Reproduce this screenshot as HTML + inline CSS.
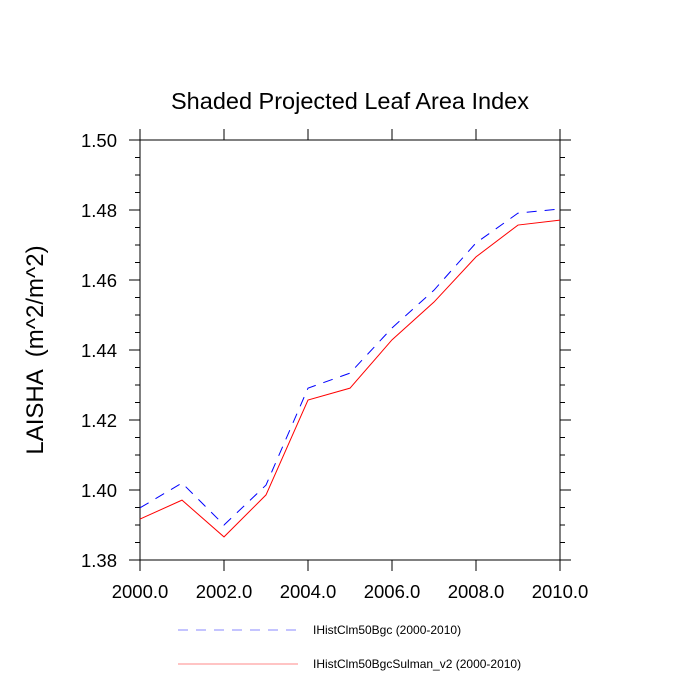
<!DOCTYPE html>
<html><head><meta charset="utf-8"><style>
body{margin:0;background:#fff;}
svg{display:block;font-family:"Liberation Sans",sans-serif;}
</style></head><body>
<svg id="chart" width="700" height="700" viewBox="0 0 700 700">
<text x="350" y="109" text-anchor="middle" font-size="23.5">Shaded Projected Leaf Area Index</text>
<text transform="translate(43,350) rotate(-90)" text-anchor="middle" font-size="24" style="white-space:pre">LAISHA  (m^2/m^2)</text>
<g id="axes"></g>
<g id="series"></g>
<g>
<line x1="178" y1="630" x2="298" y2="630" stroke="#8888ff" stroke-width="1" stroke-dasharray="10,8"/>
<text x="313" y="634" font-size="12">IHistClm50Bgc (2000-2010)</text>
<line x1="178" y1="664" x2="298" y2="664" stroke="#ff8888" stroke-width="1"/>
<text x="313" y="668" font-size="12">IHistClm50BgcSulman_v2 (2000-2010)</text>
</g>
</svg>
<script>
const years = [2000,2001,2002,2003,2004,2005,2006,2007,2008,2009,2010];
const bgc = [1.3949,1.4020,1.3900,1.4014,1.4291,1.4334,1.4463,1.4571,1.4706,1.4791,1.4803];
const sulman = [1.3917,1.3971,1.3866,1.3986,1.4257,1.4291,1.4429,1.4537,1.4666,1.4757,1.4771];
const xTicks = [2000,2002,2004,2006,2008,2010];
const yTicks = [1.38,1.40,1.42,1.44,1.46,1.48,1.50];

const L=140,R=560,T=140,B=560;
const xs=v=>L+(v-2000)/10*(R-L);
const ys=v=>B-(v-1.38)/0.12*(B-T);
const NS="http://www.w3.org/2000/svg";
const axes=document.getElementById('axes');
function mk(tag,attrs,parent){const e=document.createElementNS(NS,tag);for(const k in attrs)e.setAttribute(k,attrs[k]);parent.appendChild(e);return e;}

const frame=mk('rect',{x:L,y:T,width:R-L,height:B-T,fill:'none',stroke:'#000','stroke-width':1},axes);



xTicks.forEach(t=>{
  const x=xs(t);
  const a=mk('line',{x1:x,y1:B,x2:x,y2:B+11,stroke:'#000'},axes);
  
  
  const b=mk('line',{x1:x,y1:T,x2:x,y2:T-11,stroke:'#000'},axes);
  
  
  const tx=mk('text',{x:x,y:B+38,'text-anchor':'middle','font-size':18.5},axes);
  tx.textContent=t.toFixed(1);
  
  
});
yTicks.forEach((t,i)=>{
  const y=ys(t);
  const a=mk('line',{x1:L,y1:y,x2:L-11,y2:y,stroke:'#000'},axes);
  
  
  const b=mk('line',{x1:R,y1:y,x2:R+11,y2:y,stroke:'#000'},axes);
  
  
  const tx=mk('text',{x:L-23,y:y+7,'text-anchor':'end','font-size':18.5},axes);
  tx.textContent=t.toFixed(2);
  
  
  if(i<yTicks.length-1){
    for(let k=1;k<4;k++){
      const ym=ys(t+0.005*k);
      const m=mk('line',{x1:L,y1:ym,x2:L-5,y2:ym,stroke:'#000'},axes);
      
      
      const m2=mk('line',{x1:R,y1:ym,x2:R+5,y2:ym,stroke:'#000'},axes);
      
      
    }
  }
});

const ser=document.getElementById('series');
const p1=mk('polyline',{points:years.map((yr,i)=>xs(yr)+','+ys(bgc[i])).join(' '),fill:'none',stroke:'#0000ff','stroke-width':1,'stroke-dasharray':'10,8'},ser);


const p2=mk('polyline',{points:years.map((yr,i)=>xs(yr)+','+ys(sulman[i])).join(' '),fill:'none',stroke:'#ff0000','stroke-width':1},ser);


</script>
</body></html>
